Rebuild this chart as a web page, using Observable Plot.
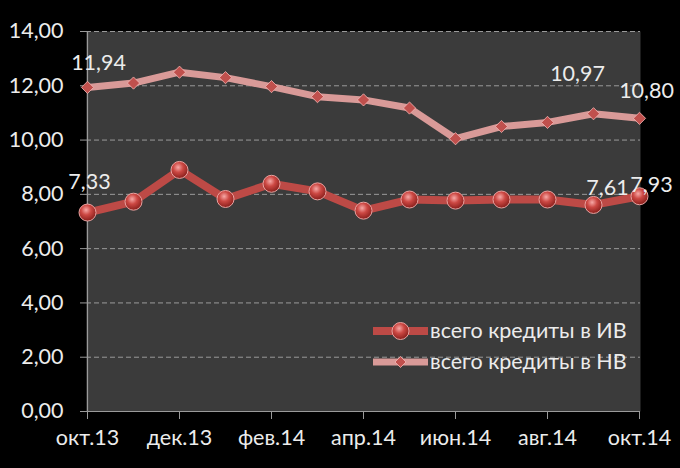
<!DOCTYPE html>
<html><head><meta charset="utf-8">
<script src="https://cdn.jsdelivr.net/npm/d3@7"></script>
<script src="https://cdn.jsdelivr.net/npm/@observablehq/plot@0.6"></script>
<style>
body{margin:0;background:#000;}
#chart{position:relative;width:680px;height:468px;font-family:Lato,"Open Sans",sans-serif;}
#legend{position:absolute;left:373px;top:315px;color:#ececec;font-size:21.5px;line-height:1;}
.item{display:flex;align-items:center;height:31px;}
.item svg{display:block;margin-right:2px;}
</style></head><body><div id="chart"></div>
<script>
const months = ["окт.13","ноя.13","дек.13","янв.14","фев.14","мар.14","апр.14","май.14","июн.14","июл.14","авг.14","сен.14","окт.14"];
const seriesIV = [7.33, 7.73, 8.90, 7.83, 8.39, 8.11, 7.40, 7.81, 7.77, 7.81, 7.81, 7.61, 7.93];
const seriesNV = [11.94, 12.10, 12.50, 12.30, 11.97, 11.60, 11.48, 11.18, 10.05, 10.50, 10.65, 10.97, 10.80];
const seriesNames = ["всего кредиты в ИВ", "всего кредиты в НВ"];
const yTicks = [0, 2, 4, 6, 8, 10, 12, 14];
const xTickMonths = months.filter((d, i) => i % 2 === 0);

const rows = months.map((m, i) => ({month: m, iv: seriesIV[i], nv: seriesNV[i]}));
const fmt = v => v.toFixed(2).replace(".", ",");
const pick = m => rows.filter(r => r.month === m);

const colIV = "#bd4a46", colNV = "#d99a98", txt = "#ececec", grid = "#9a9a9a";
const fs = 21.5;

const chart = Plot.plot({
  width: 680, height: 468,
  marginLeft: 86, marginRight: 40, marginTop: 31, marginBottom: 57,
  style: {background: "#000", color: txt, fontFamily: "Lato, 'Open Sans', sans-serif", fontSize: fs + "px"},
  x: {type: "point", domain: months, padding: 0, label: null},
  y: {domain: [0, 14], label: null},
  marks: [
    Plot.frame({fill: "#3b3b3b", stroke: null}),
    Plot.ruleY(yTicks.filter(d => d > 0), {stroke: grid, strokeDasharray: "5,3", strokeWidth: 1}),
    Plot.axisY(yTicks, {tickFormat: fmt, tickSize: 6, tickPadding: 17, stroke: grid, fill: txt, fontSize: fs, label: null}),
    Plot.axisX(xTickMonths, {tickSize: 8, tickPadding: 10, stroke: grid, fill: txt, fontSize: fs, label: null}),
    Plot.ruleY([0], {stroke: grid, strokeWidth: 1.2}),
    Plot.ruleX([months[0]], {y1: 0, y2: 14, stroke: grid, strokeWidth: 1.2}),
    Plot.line(rows, {x: "month", y: "nv", stroke: colNV, strokeWidth: 7}),
    Plot.line(rows, {x: "month", y: "iv", stroke: colIV, strokeWidth: 8}),
    Plot.dot(rows, {x: "month", y: "nv", symbol: "diamond2", r: 5.5, fill: "#c0504d", stroke: "#f2b8b6", strokeWidth: 0.8}),
    Plot.dot(rows, {x: "month", y: "iv", r: 8.5, fill: "url(#gradIV)", stroke: "#e9a3a1", strokeWidth: 1}),
    Plot.text(pick("окт.13"), {x: "month", y: "nv", text: d => fmt(d.nv), dx: 11, dy: -24, fill: txt, fontSize: fs}),
    Plot.text(pick("окт.13"), {x: "month", y: "iv", text: d => fmt(d.iv), dx: 2, dy: -30, fill: txt, fontSize: fs}),
    Plot.text(pick("сен.14"), {x: "month", y: "nv", text: d => fmt(d.nv), dx: -16, dy: -40, fill: txt, fontSize: fs}),
    Plot.text(pick("окт.14"), {x: "month", y: "nv", text: d => fmt(d.nv), dx: 7, dy: -27, fill: txt, fontSize: fs}),
    Plot.text(pick("сен.14"), {x: "month", y: "iv", text: d => fmt(d.iv), dx: 14, dy: -17, fill: txt, fontSize: fs}),
    Plot.text(pick("окт.14"), {x: "month", y: "iv", text: d => fmt(d.iv), dx: 12, dy: -11, fill: txt, fontSize: fs})
  ]
});

const defs = d3.select(chart).insert("defs", ":first-child");
const g = defs.append("radialGradient").attr("id", "gradIV").attr("cx", "42%").attr("cy", "35%").attr("r", "65%");
g.append("stop").attr("offset", "0%").attr("stop-color", "#f6a8a6");
g.append("stop").attr("offset", "45%").attr("stop-color", "#cc4843");
g.append("stop").attr("offset", "100%").attr("stop-color", "#8a1f1c");

const container = document.getElementById("chart");
container.appendChild(chart);

const legend = d3.select(container).append("div").attr("id", "legend");
[
  {name: seriesNames[0], color: colIV, width: 8, marker: "circle"},
  {name: seriesNames[1], color: colNV, width: 7, marker: "diamond"}
].forEach(s => {
  const item = legend.append("div").attr("class", "item");
  const sv = item.append("svg").attr("width", 55).attr("height", 22);
  sv.append("line").attr("x1", 0).attr("x2", 55).attr("y1", 11).attr("y2", 11)
    .attr("stroke", s.color).attr("stroke-width", s.width).attr("stroke-linecap", "round");
  if (s.marker === "circle") {
    sv.append("circle").attr("cx", 27.5).attr("cy", 11).attr("r", 8.5)
      .attr("fill", "url(#gradIV)").attr("stroke", "#e9a3a1");
  } else {
    sv.append("path").attr("d", "M27.5,5.5 L33,11 L27.5,16.5 L22,11 Z")
      .attr("fill", "#c0504d").attr("stroke", "#f2b8b6").attr("stroke-width", 0.8);
  }
  item.append("span").text(s.name);
});
</script></body></html>
